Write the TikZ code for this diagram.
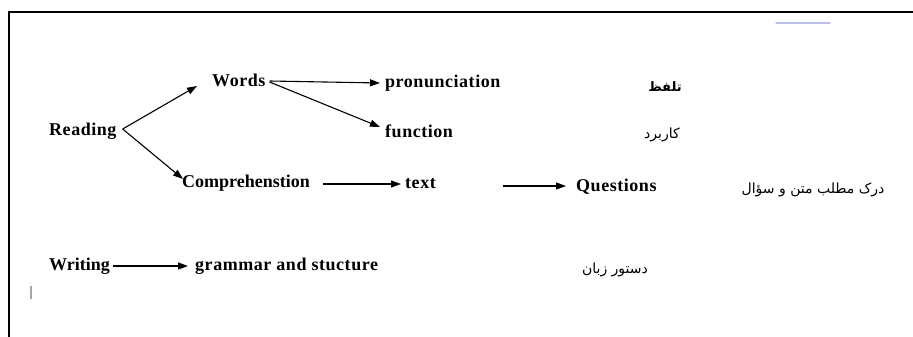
\documentclass[tikz,border=0pt]{standalone}
\usepackage{fontspec}
\setmainfont{Liberation Serif}
\newfontfamily\arabicfont[Script=Arabic]{DejaVu Sans}
\TeXXeTstate=1
\usetikzlibrary{arrows.meta,calc}
\definecolor{scanblue}{RGB}{190,190,235}
\begin{document}
\begin{tikzpicture}[x=1pt,y=-1pt,
  en/.style={inner sep=0pt, anchor=base west, font=\fontsize{18}{20}\selectfont\bfseries\addfontfeature{LetterSpace=3}},
  fa/.style={inner sep=0pt, anchor=center, font=\arabicfont\fontsize{14}{16}\selectfont},
  arr/.style={line width=1.1pt, -{Triangle[length=10pt,width=7pt]}},
  frame/.style={line width=2pt}]
\useasboundingbox (0,0) rectangle (913,337);
\fill[white] (0,0) rectangle (913,337);
\draw[frame] (913,12.5) -- (9,12.5) -- (9,337);
% faint scan marks
\draw[line width=1.2pt, scanblue, line cap=round] (776,23) -- (830,23);
\draw[line width=1.2pt, gray!70] (31,286) -- (31,299);
% English nodes
\node[en] (Reading) at (49,135) {Reading};
\node[en] (Words) at (212,86) {Words};
\node[en] (pron) at (385,88) {pronunciation};
\node[en] (func) at (385,137) {function};
\node[en, font=\fontsize{18}{20}\selectfont\bfseries] (comp) at (182,187) {Comprehenstion};
\node[en] (text) at (405,188) {text};
\node[en] (quest) at (576,191) {Questions};
\node[en, font=\fontsize{18}{20}\selectfont\bfseries] (Writing) at (49,270) {Writing};
\node[en] (gram) at (195,270) {grammar and stucture};
% Persian nodes
\node[fa, font=\arabicfont\bfseries\fontsize{13}{15}\selectfont] (talaffoz) at (665,87) {\beginR تلفظ\endR};
\node[fa] (karbord) at (662,135) {\beginR کاربرد\endR};
\node[fa] (dark) at (813,190) {\beginR درک مطلب متن و سؤال\endR};
\node[fa] (dastur) at (615,270) {\beginR دستور زبان\endR};
% connectors
\draw[arr] ($(Reading.base east)+(6,-6)$) -- ($(Words.base west)+(-15,0)$);
\draw[arr] ($(Reading.base east)+(6,-6)$) -- ($(comp.base west)+(1,-8)$);
\draw[arr] ($(Words.base east)+(4,-5)$) -- ($(pron.base west)+(-5,-5)$);
\draw[arr] ($(Words.base east)+(4,-4)$) -- ($(func.base west)+(-5,-10)$);
\draw[arr] ($(comp.base east)+(13,-3)$) -- ($(text.base west)+(-4,-4)$);
\draw[arr] ($(text.base east)+(67,-2)$) -- ($(quest.base west)+(-10,-5)$);
\draw[arr] ($(Writing.base east)+(3,-4)$) -- ($(gram.base west)+(-7,-4)$);
\end{tikzpicture}
\end{document}
